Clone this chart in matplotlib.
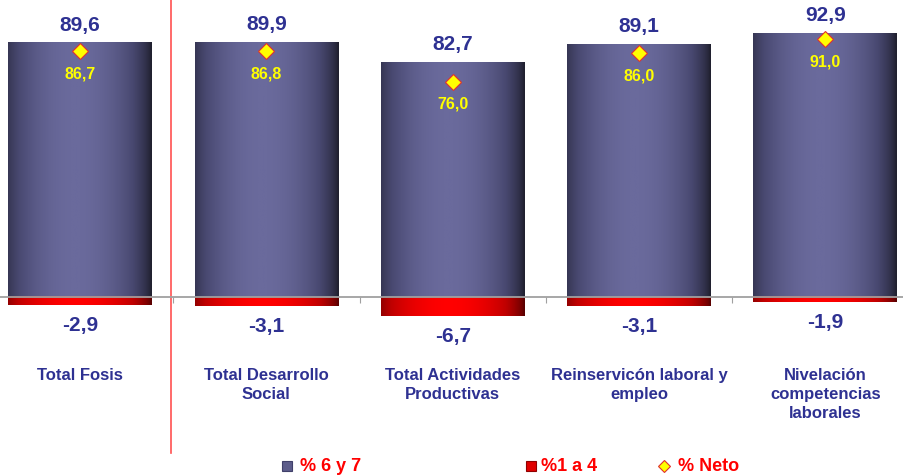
import numpy as np
import matplotlib
matplotlib.use("Agg")
import matplotlib.pyplot as plt
from matplotlib.colors import LinearSegmentedColormap

categories = ["Total Fosis", "Total Desarrollo\nSocial", "Total Actividades\nProductivas",
              "Reinservicón laboral y\nempleo", "Nivelación\ncompetencias\nlaborales"]
pct_6_7 = [89.6, 89.9, 82.7, 89.1, 92.9]
pct_1_4 = [-2.9, -3.1, -6.7, -3.1, -1.9]
pct_neto = [86.7, 86.8, 76.0, 86.0, 91.0]

fmt = lambda v: f"{v:.1f}".replace(".", ",")

plt.rcParams['font.family'] = ['Liberation Sans', 'DejaVu Sans']
blue_txt = "#2e3192"

fig = plt.figure(figsize=(9.04, 4.75), dpi=100)
ax = fig.add_axes([0, 0, 1, 1])

x = np.arange(len(categories))
w = 0.77

# horizontal profile for the cylinder look
t = np.linspace(0, 1, 200)
prof = np.clip(np.cos((t - 0.47) * np.pi / 1.05), 0, 1) ** 0.7
grad = prof[np.newaxis, :]

cmap_blue = LinearSegmentedColormap.from_list("b", ["#20202f", "#484870", "#6a6a9c"])
cmap_red = LinearSegmentedColormap.from_list("r", ["#5a0000", "#c00000", "#ff0000"])

bars_pos = ax.bar(x, pct_6_7, width=w, color="none", edgecolor="none")
bars_neg = ax.bar(x, pct_1_4, width=w, color="none", edgecolor="none")

for b in bars_pos:
    x0, y0 = b.get_x(), b.get_y()
    ax.imshow(grad, extent=[x0, x0 + b.get_width(), y0, y0 + b.get_height()],
              aspect="auto", cmap=cmap_blue, vmin=0, vmax=1, zorder=2)
for b in bars_neg:
    x0, y0 = b.get_x(), b.get_y()
    ax.imshow(grad, extent=[x0, x0 + b.get_width(), y0 + b.get_height(), y0],
              aspect="auto", cmap=cmap_red, vmin=0, vmax=1, zorder=2)

ax.plot(x, pct_neto, linestyle="none", marker="D", markersize=8.5,
        markerfacecolor="#ffff00", markeredgecolor="#e03030", markeredgewidth=0.8, zorder=4)

for xi, v in zip(x, pct_6_7):
    ax.annotate(fmt(v), (xi, v), xytext=(0, 6), textcoords="offset points",
                ha="center", va="bottom", fontsize=15, fontweight="bold", color=blue_txt)
for xi, v in zip(x, pct_1_4):
    ax.annotate(fmt(v), (xi, v), xytext=(0, -8), textcoords="offset points",
                ha="center", va="top", fontsize=15, fontweight="bold", color=blue_txt)
for xi, v in zip(x, pct_neto):
    ax.annotate(fmt(v), (xi, v), xytext=(0, -11), textcoords="offset points",
                ha="center", va="top", fontsize=11.5, fontweight="bold", color="#ffff00", zorder=5)

for xi, c in zip(x, categories):
    ax.text(xi, -25.0, c, ha="center", va="top", fontsize=12, fontweight="bold",
            color=blue_txt, linespacing=1.35)

# zero line with category separator ticks
for s in ["top", "left", "right"]:
    ax.spines[s].set_visible(False)
ax.spines["bottom"].set_position(("data", 0))
ax.spines["bottom"].set_color("#a0a0a0")
ax.spines["bottom"].set_linewidth(1.3)
ax.spines["bottom"].set_zorder(3)
ax.set_xticks(np.arange(-0.5, 5, 1.0))
ax.set_xticklabels([])
ax.tick_params(axis="x", length=4, color="#a0a0a0", direction="out")
ax.set_yticks([])

ax.set_xlim(-0.43, 4.423)
ax.set_ylim(-62.79, 104.76)

ax.axvline(0.49, ymin=0.046, ymax=1, color="#ff5050", linewidth=1.2, zorder=1)

# legend
leg_y = 0.018
leg = [(0.318, 0.332, "% 6 y 7", "s", cmap_blue(0.8), "#40406a"),
       (0.587, 0.598, "%1 a 4", "s", "#e00000", "#900000"),
       (0.734, 0.750, "% Neto", "D", "#ffff00", "#e03030")]
for mx, tx, lab, mk, fc, ec in leg:
    ax.plot([mx], [leg_y], marker=mk, markersize=6 if mk == "D" else 7, linestyle="none",
            markerfacecolor=fc, markeredgecolor=ec, markeredgewidth=0.8,
            transform=fig.transFigure, clip_on=False)
    fig.text(tx, leg_y, lab, ha="left", va="center", fontsize=13, fontweight="bold", color="#ff0000")

fig.savefig("out.png", dpi=100)
